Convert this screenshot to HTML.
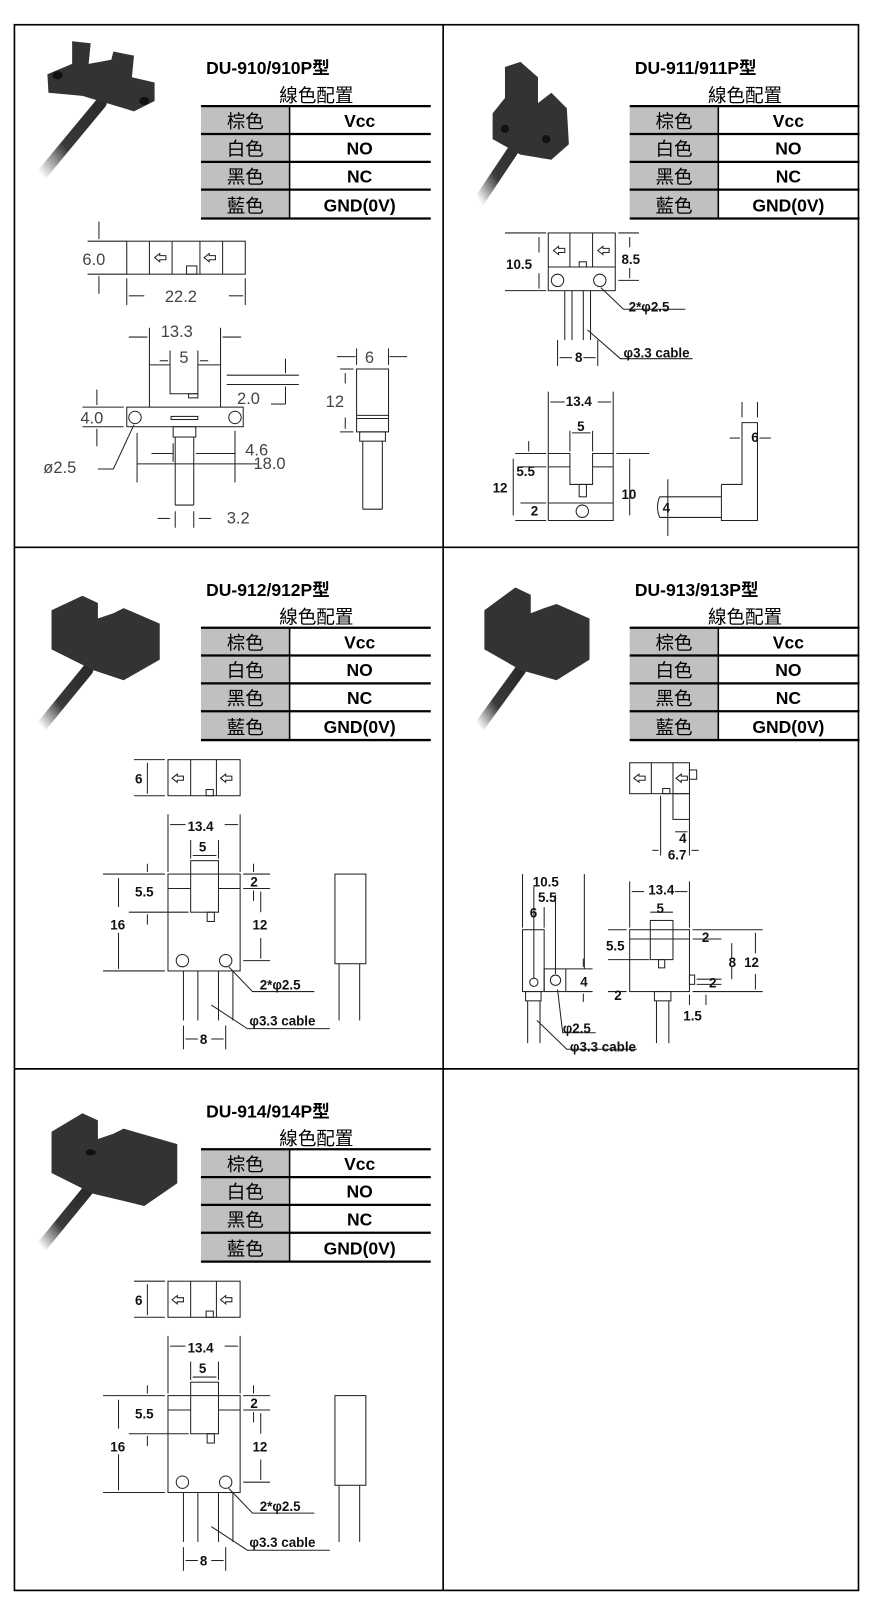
<!DOCTYPE html>
<html><head><meta charset="utf-8"><style>
html,body{margin:0;padding:0;background:#fff}
svg{display:block}
text{font-family:"Liberation Sans","Noto Sans CJK TC",sans-serif}
.t{font-weight:bold;font-size:17px}
.h{font-size:18px}
.c{font-size:18px}
.v{font-weight:bold;font-size:17px}
.d line,.d rect,.d circle,.d path,.d polyline{stroke:#222;stroke-width:1;fill:none}
.g{fill:#444;font-size:16px}
.b{font-weight:bold;font-size:13px;fill:#111}
</style></head><body>
<svg width="876" height="1610" viewBox="0 0 850 1562" preserveAspectRatio="none" xmlns="http://www.w3.org/2000/svg">
<defs>
<linearGradient id="cab" x1="1" y1="0" x2="0" y2="1"><stop offset="0" stop-color="#2a2a2a"/><stop offset="0.6" stop-color="#3a3a3a"/><stop offset="1" stop-color="#fff"/></linearGradient>
<g id="tbl">
<text x="5" y="-31" class="t">DU-910/910P型</text>
<rect x="0" y="0" width="86" height="109" fill="#c0c0c0"/>
<line x1="86" y1="0" x2="86" y2="109" stroke="#000" stroke-width="1.5"/>
<g stroke="#000" stroke-width="2.2"><line x1="0" y1="0" x2="223" y2="0"/><line x1="0" y1="27" x2="223" y2="27"/><line x1="0" y1="54" x2="223" y2="54"/><line x1="0" y1="81" x2="223" y2="81"/><line x1="0" y1="109" x2="223" y2="109"/></g>
<text x="112" y="-4" text-anchor="middle" class="h">線色配置</text>
<g class="c" text-anchor="middle"><text x="43" y="21">棕色</text><text x="43" y="48">白色</text><text x="43" y="75">黑色</text><text x="43" y="103">藍色</text></g>
<g class="v" text-anchor="middle"><text x="154" y="20">Vcc</text><text x="154" y="47">NO</text><text x="154" y="74">NC</text><text x="154" y="102">GND(0V)</text></g>
</g>
</defs>
<!-- grid -->
<g stroke="#000" stroke-width="1.6" fill="none">
<rect x="14" y="24" width="819" height="1519"/>
<line x1="430" y1="24" x2="430" y2="1543"/>
<line x1="14" y1="531" x2="833" y2="531"/>
<line x1="14" y1="1037" x2="833" y2="1037"/>
</g>
<!-- tables -->
<g transform="translate(195,103)"><use href="#tbl"/></g>
<rect x="195" y="55" width="160" height="22" fill="#fff"/><text x="200" y="72" class="t">DU-910/910P型</text>
<g transform="translate(611,103)"><use href="#tbl"/></g>
<rect x="611" y="55" width="160" height="22" fill="#fff"/><text x="616" y="72" class="t">DU-911/911P型</text>
<g transform="translate(195,609)"><use href="#tbl"/></g>
<rect x="195" y="561" width="160" height="22" fill="#fff"/><text x="200" y="578" class="t">DU-912/912P型</text>
<g transform="translate(611,609)"><use href="#tbl"/></g>
<rect x="611" y="561" width="160" height="22" fill="#fff"/><text x="616" y="578" class="t">DU-913/913P型</text>
<g transform="translate(195,1115)"><use href="#tbl"/></g>
<rect x="195" y="1067" width="160" height="22" fill="#fff"/><text x="200" y="1084" class="t">DU-914/914P型</text>

<!-- photos -->
<g>
<path d="M98,100 L40,170" stroke="url(#cab)" stroke-width="11" fill="none" stroke-linecap="round"/>
<polygon points="70,40 88,42 86,62 108,58 110,50 130,54 128,75 150,80 150,98 130,108 80,93 47,90 46,72 70,62" fill="#333"/>
<ellipse cx="56" cy="73" rx="5" ry="4" fill="#111"/><ellipse cx="140" cy="98" rx="5" ry="4" fill="#111"/>
</g>
<g>
<path d="M505,135 L465,195" stroke="url(#cab)" stroke-width="11" fill="none" stroke-linecap="round"/>
<polygon points="490,65 505,60 522,75 522,100 535,90 550,105 552,140 535,155 505,150 478,135 478,110 490,95" fill="#333"/>
<circle cx="490" cy="125" r="4" fill="#111"/><circle cx="530" cy="135" r="4" fill="#111"/>
</g>
<g>
<path d="M85,650 L40,705" stroke="url(#cab)" stroke-width="11" fill="none" stroke-linecap="round"/>
<polygon points="50,592 80,578 95,585 95,600 110,595 120,590 155,605 155,640 120,660 90,650 50,630" fill="#333"/>
</g>
<g>
<path d="M505,650 L465,705" stroke="url(#cab)" stroke-width="11" fill="none" stroke-linecap="round"/>
<polygon points="470,592 500,570 515,577 515,595 528,590 540,586 572,600 572,640 540,660 505,650 470,630" fill="#333"/>
</g>
<g>
<path d="M85,1155 L40,1210" stroke="url(#cab)" stroke-width="11" fill="none" stroke-linecap="round"/>
<polygon points="50,1098 80,1080 95,1087 95,1105 110,1100 120,1095 172,1110 172,1148 140,1170 90,1158 50,1138" fill="#333"/>
<ellipse cx="88" cy="1118" rx="5" ry="3" fill="#111"/>
</g>

<!-- cell 1 drawings -->
<g class="d">
<rect x="123" y="234" width="115" height="32"/>
<line x1="145" y1="234" x2="145" y2="266"/><line x1="167" y1="234" x2="167" y2="266"/><line x1="194" y1="234" x2="194" y2="266"/><line x1="216" y1="234" x2="216" y2="266"/>
<rect x="181" y="258" width="10" height="8"/>
<path d="M150,250 l5,-4 v2 h6 v4 h-6 v2 z"/><path d="M198,250 l5,-4 v2 h6 v4 h-6 v2 z"/>
<line x1="85" y1="234" x2="123" y2="234"/><line x1="85" y1="266" x2="123" y2="266"/>
<line x1="96" y1="215" x2="96" y2="232"/><line x1="96" y1="268" x2="96" y2="285"/>
<line x1="123" y1="270" x2="123" y2="296"/><line x1="238" y1="270" x2="238" y2="296"/>
<line x1="125" y1="287" x2="140" y2="287"/><line x1="222" y1="287" x2="236" y2="287"/>
<!-- front -->
<polyline points="145,395 145,354 165,354 165,382 192,382 192,354 214,354 214,395"/>
<rect x="123" y="395" width="113" height="19"/>
<rect x="183" y="382" width="9" height="4"/>
<rect x="166" y="404" width="26" height="3"/>
<circle cx="131" cy="405" r="6"/><circle cx="228" cy="405" r="6"/>
<rect x="168" y="414" width="22" height="10"/>
<line x1="170" y1="424" x2="170" y2="490"/><line x1="188" y1="424" x2="188" y2="490"/><line x1="170" y1="490" x2="188" y2="490"/>
<line x1="145" y1="318" x2="145" y2="354"/><line x1="214" y1="318" x2="214" y2="354"/>
<line x1="125" y1="327" x2="143" y2="327"/><line x1="216" y1="327" x2="234" y2="327"/>
<line x1="165" y1="340" x2="165" y2="354"/><line x1="192" y1="340" x2="192" y2="354"/>
<line x1="155" y1="350" x2="163" y2="350"/><line x1="194" y1="350" x2="202" y2="350"/>
<line x1="220" y1="364" x2="290" y2="364"/><line x1="220" y1="373" x2="290" y2="373"/>
<line x1="277" y1="348" x2="277" y2="362"/><line x1="277" y1="375" x2="277" y2="392"/><line x1="263" y1="392" x2="277" y2="392"/>
<line x1="80" y1="395" x2="120" y2="395"/><line x1="80" y1="414" x2="120" y2="414"/>
<line x1="94" y1="378" x2="94" y2="393"/><line x1="94" y1="416" x2="94" y2="433"/>
<path d="M130,412 L110,455 L95,455"/>
<line x1="133" y1="420" x2="133" y2="468"/><line x1="228" y1="418" x2="228" y2="468"/>
<line x1="133" y1="450" x2="250" y2="450"/>
<line x1="147" y1="440" x2="168" y2="440"/><line x1="190" y1="440" x2="228" y2="440"/>
<line x1="168" y1="430" x2="168" y2="448"/>
<line x1="153" y1="503" x2="165" y2="503"/><line x1="193" y1="503" x2="205" y2="503"/>
<line x1="170" y1="496" x2="170" y2="512"/><line x1="188" y1="496" x2="188" y2="512"/>
<!-- side -->
<rect x="346" y="358" width="31" height="61"/><line x1="346" y1="403" x2="377" y2="403"/><line x1="346" y1="406" x2="377" y2="406"/>
<rect x="349" y="419" width="25" height="9"/>
<line x1="352" y1="428" x2="352" y2="494"/><line x1="371" y1="428" x2="371" y2="494"/><line x1="352" y1="494" x2="371" y2="494"/>
<line x1="330" y1="358" x2="343" y2="358"/><line x1="330" y1="419" x2="343" y2="419"/>
<line x1="335" y1="362" x2="335" y2="372"/><line x1="335" y1="405" x2="335" y2="416"/>
<line x1="327" y1="346" x2="345" y2="346"/><line x1="378" y1="346" x2="395" y2="346"/>
<line x1="346" y1="338" x2="346" y2="354"/><line x1="377" y1="338" x2="377" y2="354"/>
</g>
<g class="g">
<text x="80" y="257">6.0</text><text x="160" y="293">22.2</text>
<text x="156" y="327">13.3</text><text x="174" y="352">5</text><text x="230" y="392">2.0</text>
<text x="78" y="411">4.0</text><text x="42" y="459">ø2.5</text>
<text x="238" y="442">4.6</text><text x="246" y="455">18.0</text>
<text x="220" y="508">3.2</text><text x="354" y="352">6</text><text x="316" y="395">12</text>
</g>

<!-- cell 2 drawings -->
<g class="d">
<rect x="532" y="226" width="65" height="56"/><line x1="532" y1="259" x2="597" y2="259"/>
<line x1="553" y1="226" x2="553" y2="259"/><line x1="575" y1="226" x2="575" y2="259"/>
<rect x="562" y="254" width="7" height="5"/>
<path d="M537,243 l5,-4 v2 h6 v4 h-6 v2 z"/><path d="M580,243 l5,-4 v2 h6 v4 h-6 v2 z"/>
<circle cx="541" cy="272" r="6"/><circle cx="582" cy="272" r="6"/>
<line x1="548" y1="282" x2="548" y2="330"/><line x1="555" y1="282" x2="555" y2="330"/><line x1="566" y1="282" x2="566" y2="330"/><line x1="573" y1="282" x2="573" y2="330"/>
<line x1="490" y1="226" x2="530" y2="226"/><line x1="490" y1="282" x2="530" y2="282"/>
<line x1="600" y1="226" x2="620" y2="226"/><line x1="600" y1="272" x2="620" y2="272"/>
<line x1="523" y1="230" x2="523" y2="245"/><line x1="523" y1="265" x2="523" y2="280"/>
<line x1="611" y1="230" x2="611" y2="240"/><line x1="611" y1="260" x2="611" y2="270"/>
<path d="M583,279 L605,300 L665,300"/>
<path d="M570,320 L602,348 L672,348"/>
<line x1="541" y1="330" x2="541" y2="355"/><line x1="580" y1="330" x2="580" y2="355"/>
<line x1="543" y1="347" x2="555" y2="347"/><line x1="566" y1="347" x2="578" y2="347"/>
<!-- lower -->
<line x1="532" y1="380" x2="532" y2="440"/><line x1="595" y1="380" x2="595" y2="440"/>
<line x1="534" y1="390" x2="548" y2="390"/><line x1="580" y1="390" x2="593" y2="390"/>
<polyline points="532,505 532,440 553,440 553,470 575,470 575,440 595,440 595,505 532,505"/>
<line x1="532" y1="453" x2="553" y2="453"/><line x1="575" y1="453" x2="595" y2="453"/>
<line x1="532" y1="488" x2="595" y2="488"/>
<rect x="562" y="470" width="7" height="12"/>
<circle cx="565" cy="496" r="6"/>
<line x1="553" y1="418" x2="553" y2="438"/><line x1="575" y1="418" x2="575" y2="438"/>
<line x1="555" y1="420" x2="573" y2="420"/>
<line x1="500" y1="440" x2="530" y2="440"/><line x1="500" y1="505" x2="530" y2="505"/><line x1="505" y1="453" x2="530" y2="453"/><line x1="505" y1="488" x2="530" y2="488"/>
<line x1="498" y1="445" x2="498" y2="500"/><line x1="513" y1="428" x2="513" y2="438"/>
<line x1="598" y1="440" x2="630" y2="440"/><line x1="611" y1="445" x2="611" y2="500"/>
<line x1="648" y1="465" x2="648" y2="520"/>
<line x1="640" y1="482" x2="700" y2="482"/><line x1="640" y1="502" x2="700" y2="502"/>
<path d="M640,482 q-4,10 0,20"/>
<polyline points="700,470 720,470 720,410 735,410 735,505 700,505 700,470"/>
<line x1="720" y1="405" x2="720" y2="390"/><line x1="735" y1="405" x2="735" y2="390"/>
<line x1="708" y1="425" x2="718" y2="425"/><line x1="737" y1="425" x2="748" y2="425"/>
</g>
<g class="b">
<text x="491" y="261">10.5</text><text x="603" y="256">8.5</text>
<text x="610" y="302">2*φ2.5</text><text x="605" y="347">φ3.3 cable</text><text x="558" y="351">8</text>
<text x="549" y="394">13.4</text><text x="560" y="418">5</text>
<text x="501" y="462">5.5</text><text x="478" y="478">12</text><text x="603" y="484">10</text>
<text x="515" y="500">2</text><text x="643" y="497">4</text><text x="729" y="429">6</text>
</g>

<!-- cells 3 & 5 drawings -->
<g id="d912">
<g class="d">
<rect x="163" y="737" width="70" height="35"/>
<line x1="185" y1="737" x2="185" y2="772"/><line x1="210" y1="737" x2="210" y2="772"/>
<rect x="200" y="766" width="7" height="6"/>
<path d="M167,755 l5,-4 v2 h6 v4 h-6 v2 z"/><path d="M214,755 l5,-4 v2 h6 v4 h-6 v2 z"/>
<line x1="130" y1="737" x2="160" y2="737"/><line x1="130" y1="772" x2="160" y2="772"/>
<line x1="143" y1="740" x2="143" y2="770"/>
<line x1="163" y1="790" x2="163" y2="846"/><line x1="233" y1="790" x2="233" y2="846"/>
<line x1="165" y1="800" x2="180" y2="800"/><line x1="218" y1="800" x2="231" y2="800"/>
<rect x="163" y="848" width="70" height="94"/>
<line x1="163" y1="862" x2="185" y2="862"/><line x1="212" y1="862" x2="233" y2="862"/>
<rect x="185" y="835" width="27" height="50" fill="#fff"/>
<line x1="185" y1="815" x2="185" y2="833"/><line x1="212" y1="815" x2="212" y2="833"/>
<line x1="187" y1="830" x2="210" y2="830"/>
<rect x="201" y="885" width="7" height="9"/>
<circle cx="177" cy="932" r="6"/><circle cx="219" cy="932" r="6"/>
<line x1="178" y1="942" x2="178" y2="990"/><line x1="192" y1="942" x2="192" y2="990"/>
<line x1="212" y1="942" x2="212" y2="990"/><line x1="226" y1="942" x2="226" y2="990"/>
<line x1="100" y1="848" x2="160" y2="848"/><line x1="100" y1="942" x2="160" y2="942"/><line x1="125" y1="885" x2="183" y2="885"/>
<line x1="115" y1="852" x2="115" y2="880"/><line x1="115" y1="905" x2="115" y2="940"/>
<line x1="143" y1="838" x2="143" y2="846"/><line x1="143" y1="887" x2="143" y2="897"/>
<line x1="236" y1="848" x2="262" y2="848"/><line x1="236" y1="862" x2="262" y2="862"/>
<line x1="246" y1="838" x2="246" y2="846"/><line x1="246" y1="864" x2="246" y2="874"/>
<line x1="236" y1="932" x2="262" y2="932"/><line x1="253" y1="865" x2="253" y2="885"/><line x1="253" y1="910" x2="253" y2="930"/>
<path d="M222,938 L245,962 L305,962"/>
<path d="M205,975 L240,998 L320,998"/>
<line x1="178" y1="995" x2="178" y2="1018"/><line x1="219" y1="995" x2="219" y2="1018"/>
<line x1="180" y1="1008" x2="192" y2="1008"/><line x1="205" y1="1008" x2="217" y2="1008"/>
<rect x="325" y="848" width="30" height="87"/>
<line x1="329" y1="935" x2="329" y2="990"/><line x1="349" y1="935" x2="349" y2="990"/>
</g>
<g class="b">
<text x="131" y="760">6</text><text x="182" y="806">13.4</text><text x="193" y="826">5</text>
<text x="131" y="870">5.5</text><text x="107" y="902">16</text><text x="243" y="860">2</text>
<text x="245" y="902">12</text><text x="252" y="960">2*φ2.5</text><text x="242" y="995">φ3.3 cable</text><text x="194" y="1013">8</text>
</g>
</g>
<use href="#d912" transform="translate(0,506)"/>

<!-- cell 4 drawings -->
<g class="d">
<rect x="611" y="740" width="58" height="30"/>
<line x1="632" y1="740" x2="632" y2="770"/><line x1="653" y1="740" x2="653" y2="770"/>
<rect x="643" y="765" width="7" height="5"/><rect x="669" y="747" width="7" height="9"/>
<path d="M615,755 l5,-4 v2 h6 v4 h-6 v2 z"/><path d="M656,755 l5,-4 v2 h6 v4 h-6 v2 z"/>
<rect x="653" y="770" width="16" height="25"/>
<line x1="641" y1="772" x2="641" y2="830"/><line x1="669" y1="795" x2="669" y2="830"/>
<line x1="655" y1="807" x2="667" y2="807"/><line x1="633" y1="825" x2="639" y2="825"/><line x1="671" y1="825" x2="678" y2="825"/>
<!-- front lower -->
<line x1="611" y1="855" x2="611" y2="900"/><line x1="669" y1="855" x2="669" y2="900"/>
<line x1="613" y1="865" x2="625" y2="865"/><line x1="655" y1="865" x2="667" y2="865"/>
<rect x="611" y="902" width="58" height="60"/>
<line x1="611" y1="911" x2="669" y2="911"/>
<rect x="631" y="893" width="22" height="38" fill="#fff"/>
<line x1="631" y1="885" x2="653" y2="885"/>
<rect x="639" y="931" width="6" height="8"/><rect x="669" y="946" width="5" height="9"/>
<rect x="635" y="962" width="16" height="9"/>
<line x1="637" y1="971" x2="637" y2="1012"/><line x1="649" y1="971" x2="649" y2="1012"/>
<line x1="590" y1="902" x2="608" y2="902"/><line x1="590" y1="931" x2="630" y2="931"/><line x1="590" y1="962" x2="608" y2="962"/>
<line x1="672" y1="902" x2="740" y2="902"/><line x1="672" y1="911" x2="700" y2="911"/><line x1="672" y1="962" x2="740" y2="962"/>
<line x1="676" y1="950" x2="700" y2="950"/><line x1="676" y1="955" x2="700" y2="955"/>
<line x1="710" y1="915" x2="710" y2="930"/><line x1="710" y1="938" x2="710" y2="950"/>
<line x1="733" y1="905" x2="733" y2="925"/><line x1="733" y1="945" x2="733" y2="960"/>
<line x1="685" y1="965" x2="685" y2="975"/><line x1="669" y1="965" x2="669" y2="975"/>
<!-- side left -->
<rect x="507" y="902" width="21" height="60"/><rect x="528" y="940" width="21" height="22"/>
<circle cx="518" cy="953" r="4"/><circle cx="539" cy="951" r="5"/>
<rect x="510" y="962" width="15" height="9"/>
<line x1="512" y1="971" x2="512" y2="1012"/><line x1="524" y1="971" x2="524" y2="1012"/>
<line x1="507" y1="848" x2="507" y2="900"/><line x1="567" y1="848" x2="567" y2="940"/><line x1="528" y1="880" x2="528" y2="900"/>
<line x1="518" y1="860" x2="518" y2="950"/><line x1="539" y1="868" x2="539" y2="945"/>
<line x1="549" y1="940" x2="575" y2="940"/><line x1="549" y1="962" x2="575" y2="962"/>
<line x1="566" y1="930" x2="566" y2="938"/><line x1="566" y1="964" x2="566" y2="972"/>
<path d="M541,960 L546,1002 L578,1002"/><path d="M521,990 L550,1018 L618,1018"/>
</g>
<g class="b">
<text x="659" y="818">4</text><text x="648" y="834">6.7</text>
<text x="517" y="860">10.5</text><text x="522" y="875">5.5</text><text x="514" y="890">6</text>
<text x="629" y="868">13.4</text><text x="637" y="886">5</text>
<text x="588" y="922">5.5</text><text x="681" y="914">2</text><text x="707" y="938">8</text><text x="722" y="938">12</text>
<text x="688" y="958">2</text><text x="596" y="970">2</text><text x="663" y="990">1.5</text>
<text x="563" y="957">4</text><text x="546" y="1002">φ2.5</text><text x="553" y="1020">φ3.3 cable</text>
</g>
</svg>
</body></html>
